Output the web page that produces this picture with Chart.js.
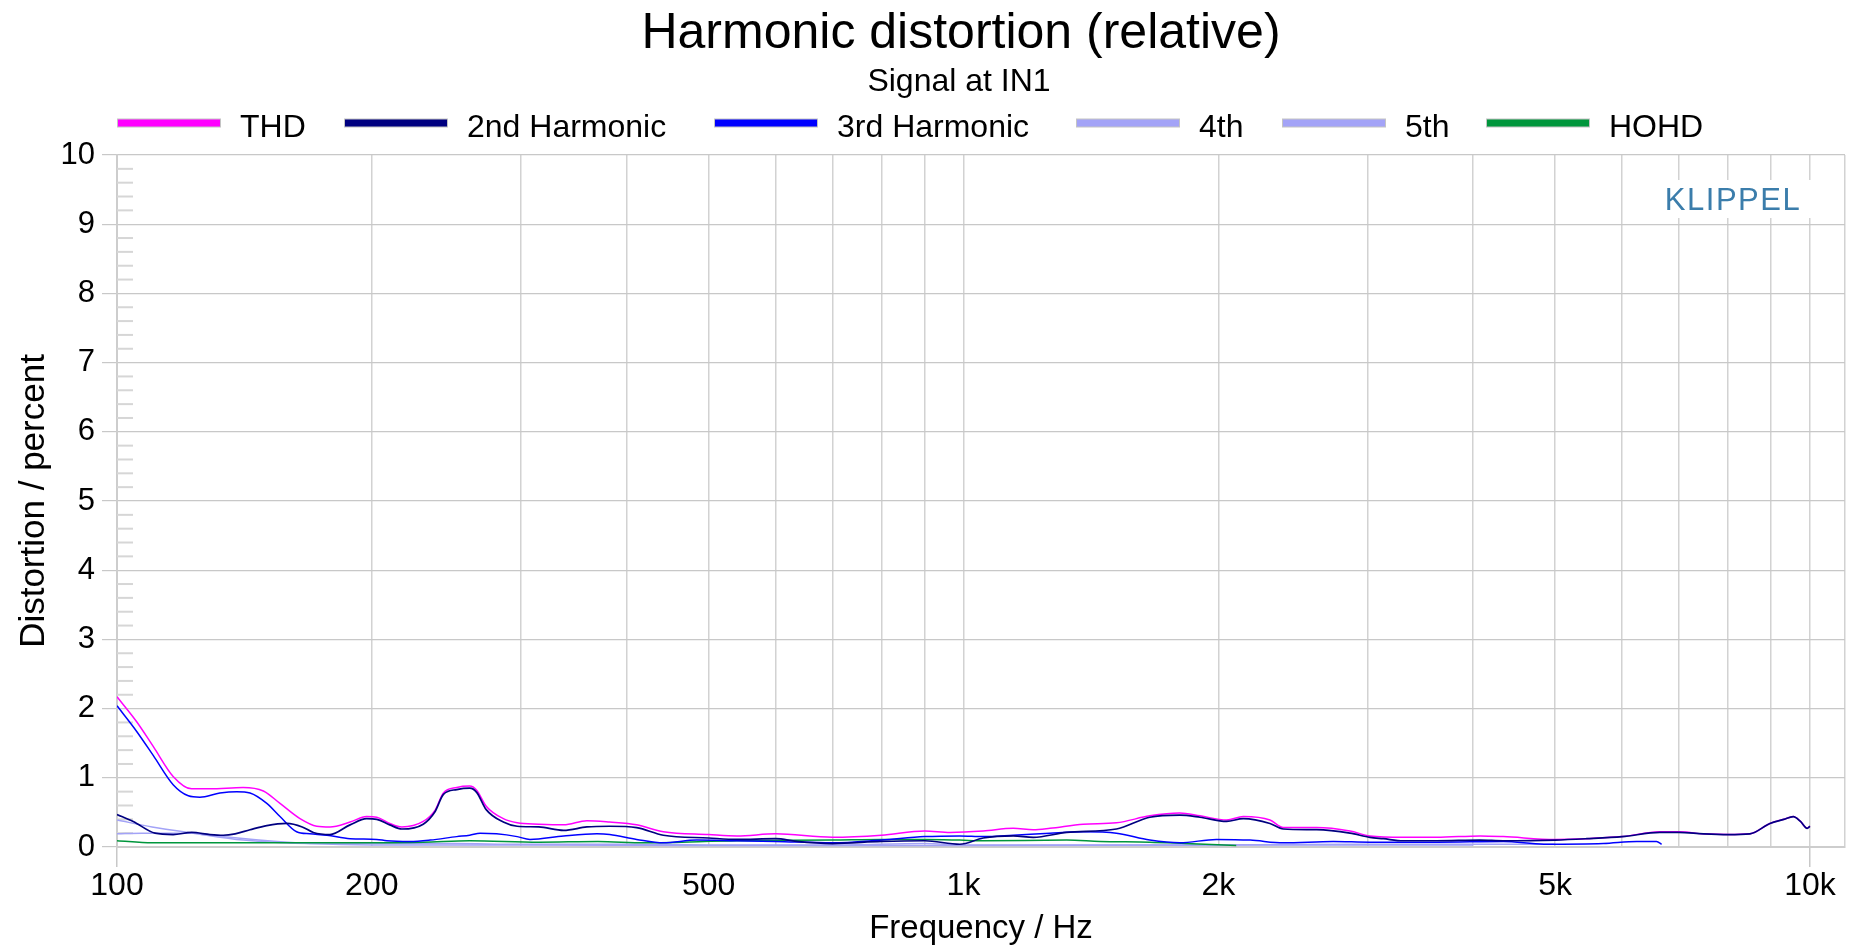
<!DOCTYPE html>
<html><head><meta charset="utf-8">
<script src="https://cdn.jsdelivr.net/npm/chart.js@4/dist/chart.umd.min.js"></script>
<style>html,body{margin:0;padding:0;background:#fff;overflow:hidden}canvas{display:block}</style>
</head><body><canvas id="c" width="1854" height="948"></canvas>
<script>
// ---- data (frequency in Hz, distortion in percent) ----
const thdFreq = [100,105.5,110.4,116.5,122.5,128.8,140.9,148.9,155.8,164.5,172.2,178.5,188.5,197.2,202.7,210,217,230,237.5,243,252,261,266,273,286,297,315,337,359,382,411,442,500,540,600,700,800,900,964,1055,1145,1209,1265,1385,1516,1660,1801,1903,2046,2141,2302,2387,2613,2861,3021,3308,3622,4076,4343,5000,5447,6000,6648,7000,7482,8000,8495,8968,9314,9556,9745,9924,10000];
const thdVal = [2.17,1.81,1.45,1.02,0.84,0.84,0.86,0.81,0.63,0.41,0.30,0.29,0.36,0.44,0.43,0.34,0.29,0.37,0.53,0.78,0.86,0.88,0.82,0.59,0.41,0.35,0.33,0.32,0.38,0.36,0.32,0.22,0.18,0.16,0.19,0.14,0.17,0.23,0.21,0.23,0.27,0.25,0.27,0.33,0.35,0.45,0.49,0.45,0.39,0.44,0.39,0.28,0.28,0.23,0.16,0.14,0.14,0.16,0.15,0.11,0.12,0.15,0.22,0.22,0.19,0.18,0.19,0.34,0.40,0.44,0.37,0.27,0.30];

const h2Freq = [100,104.5,110.9,116.5,122.5,128.8,133.5,137.9,143.6,150.3,158.7,165.5,170.6,178.5,188.5,197.2,202.7,210,217,230,237.5,243,252,261,266,273,286,297,315,337,359,382,411,442,500,540,600,635,700,800,900,990,1055,1145,1209,1324,1516,1660,1801,1903,2046,2141,2302,2387,2613,2861,3021,3133,3308,3622,4076,4343,5000,5447,6000,6648,7000,7482,8000,8495,8968,9314,9556,9745,9924,10000];
const h2Val = [0.47,0.37,0.20,0.18,0.21,0.18,0.17,0.19,0.25,0.31,0.34,0.29,0.21,0.18,0.32,0.41,0.40,0.32,0.26,0.33,0.51,0.76,0.83,0.85,0.79,0.54,0.36,0.30,0.29,0.24,0.29,0.30,0.28,0.17,0.13,0.11,0.12,0.08,0.05,0.08,0.09,0.04,0.13,0.16,0.14,0.21,0.26,0.43,0.46,0.43,0.37,0.41,0.34,0.26,0.25,0.20,0.14,0.12,0.09,0.09,0.10,0.09,0.10,0.12,0.15,0.21,0.21,0.19,0.18,0.19,0.34,0.40,0.44,0.37,0.27,0.30];

const h3Freq = [100,105.5,110.4,116.5,121.4,125.3,132.3,138.5,143.6,150.3,155.8,163,169,177,188.5,202.7,208.3,221.9,234.4,252,261,268.5,280.8,297,307.5,337,369,382,411,442,484,540,600,700,800,900,990,1055,1145,1265,1385,1516,1660,1801,1990,2181,2387,2734,3021,3622,4343,4849,5700,6243,6588,6680];
const h3Val = [2.04,1.67,1.32,0.90,0.74,0.72,0.78,0.80,0.78,0.63,0.44,0.22,0.19,0.17,0.12,0.11,0.09,0.08,0.10,0.15,0.17,0.20,0.19,0.15,0.11,0.16,0.19,0.18,0.11,0.06,0.10,0.09,0.08,0.06,0.10,0.15,0.16,0.15,0.17,0.20,0.22,0.20,0.10,0.06,0.11,0.10,0.06,0.08,0.07,0.07,0.08,0.04,0.05,0.08,0.08,0.04];

const h4Freq = [100,110,123,141,169,200,250,300,400,500,700,900,1000,1500,2000,3000,4000,5000];
const h4Val = [0.39,0.29,0.20,0.10,0.05,0.05,0.05,0.04,0.04,0.03,0.03,0.05,0.03,0.03,0.03,0.04,0.04,0.04];

const h5Freq = [100,107,123,133,147,169,200,300,500,1000,2000,3000,4000];
const h5Val = [0.19,0.20,0.20,0.15,0.10,0.05,0.03,0.03,0.02,0.02,0.03,0.03,0.03];

const hohdFreq = [100,110,129,169,230,261,315,370,420,540,700,800,900,990,1055,1324,1450,1660,1830,2100];
const hohdVal = [0.09,0.06,0.06,0.06,0.07,0.09,0.07,0.08,0.06,0.09,0.10,0.11,0.11,0.10,0.09,0.10,0.08,0.07,0.05,0.02];

const seriesNames = ['THD','2nd Harmonic','3rd Harmonic','4th','5th','HOHD'];
const xGridValues = [100,200,300,400,500,600,700,800,900,1000,2000,3000,4000,5000,6000,7000,8000,9000,10000,11000];
const xTickText = {100:'100',200:'200',500:'500',1000:'1k',2000:'2k',5000:'5k',10000:'10k'};
const yTicks = {min:0, max:10, step:1, minorStep:0.2};

const FONT = "'Liberation Sans', Arial, sans-serif";
const pts = (f, v) => f.map((x, i) => ({x, y: v[i]}));
const mk = (label, f, v, color, order, w) => ({label, data: pts(f, v), borderColor: color, backgroundColor: color,
  borderWidth: w, pointRadius: 0, fill: false, order, cubicInterpolationMode: 'monotone'});

const datasets = [
  mk(seriesNames[0], thdFreq, thdVal, '#ff00ff', 2, 1.5),
  mk(seriesNames[1], h2Freq, h2Val, '#000080', 0, 1.7),
  mk(seriesNames[2], h3Freq, h3Val, '#0000ff', 1, 1.5),
  mk(seriesNames[3], h4Freq, h4Val, '#a3a3f7', 4, 1.5),
  mk(seriesNames[4], h5Freq, h5Val, '#a3a3f7', 5, 1.5),
  mk(seriesNames[5], hohdFreq, hohdVal, '#00963c', 3, 1.5)
];

const legendX = [117, 344, 714, 1076, 1282, 1486];

const deco = {
  id: 'deco',
  beforeDatasetsDraw(chart) {
    const {ctx, chartArea: a, scales: {y}} = chart;
    ctx.save();
    ctx.strokeStyle = '#d6d6d6'; ctx.lineWidth = 2;
    const n = Math.round((yTicks.max - yTicks.min) / yTicks.minorStep);
    const per = Math.round(yTicks.step / yTicks.minorStep);
    for (let k = 1; k < n; k++) {
      if (k % per === 0) continue;
      const py = y.getPixelForValue(yTicks.min + k * yTicks.minorStep);
      ctx.beginPath(); ctx.moveTo(a.left, py); ctx.lineTo(a.left + 16, py); ctx.stroke();
    }
    ctx.fillStyle = '#ffffff';
    ctx.fillRect(1663, 180, 148, 38);
    ctx.fillStyle = '#3b7dab';
    ctx.font = '31px ' + FONT;
    ctx.letterSpacing = '1.5px';
    ctx.textAlign = 'center'; ctx.textBaseline = 'alphabetic';
    ctx.fillText('KLIPPEL', 1733, 210);
    ctx.restore();
  },
  afterDraw(chart) {
    const {ctx, chartArea: a} = chart;
    ctx.save();
    ctx.fillStyle = '#000';
    ctx.textAlign = 'center'; ctx.textBaseline = 'alphabetic';
    const cx = (a.left + a.right) / 2;
    ctx.font = '50px ' + FONT;
    ctx.fillText('Harmonic distortion (relative)', 961, 48);
    ctx.font = '32px ' + FONT;
    ctx.fillText('Signal at IN1', 959, 91);
    ctx.textAlign = 'left';
    chart.data.datasets.forEach((ds, i) => {
      const x0 = legendX[i];
      ctx.fillStyle = '#c4c4c4';
      ctx.fillRect(x0, 118.5, 104, 9);
      ctx.fillStyle = ds.borderColor;
      ctx.fillRect(x0 + 1, 119.5, 102, 7);
      ctx.fillStyle = '#000';
      ctx.font = '32px ' + FONT;
      ctx.fillText(ds.label, x0 + 123, 137);
    });
    ctx.textAlign = 'center';
    ctx.font = '33px ' + FONT;
    ctx.fillText('Frequency / Hz', cx, 938);
    ctx.font = '35px ' + FONT;
    ctx.translate(44, (a.top + a.bottom) / 2);
    ctx.rotate(-Math.PI / 2);
    ctx.fillText('Distortion / percent', 0, 0);
    ctx.restore();
  }
};

new Chart(document.getElementById('c'), {
  type: 'line',
  data: {datasets},
  plugins: [deco],
  options: {
    responsive: false, animation: false,
    layout: {padding: {top: 155, right: 9, left: 0, bottom: 0}},
    plugins: {legend: {display: false}, title: {display: false}, tooltip: {enabled: false}},
    scales: {
      x: {
        type: 'logarithmic', min: 100, max: 11000,
        afterBuildTicks: s => { s.ticks = xGridValues.map(v => ({value: v})); },
        afterFit: s => { s.height = 101; },
        ticks: {autoSkip: false, maxRotation: 0, minRotation: 0, padding: 0, color: '#000',
          font: {family: FONT, size: 32}, callback: v => (xTickText[v] !== undefined ? xTickText[v] : '')},
        grid: {color: '#d2d2d2', lineWidth: 1.5, tickLength: 20,
          tickColor: c => (c.tick && (c.tick.value === 100 || c.tick.value === 10000)) ? '#c8c8c8' : 'rgba(0,0,0,0)'},
        border: {color: '#cdcdcd', width: 2}
      },
      y: {
        min: yTicks.min, max: yTicks.max,
        afterFit: s => { s.width = 117; },
        ticks: {stepSize: yTicks.step, padding: 7, color: '#000', font: {family: FONT, size: 31}},
        grid: {color: '#c8c8c8', lineWidth: 1.2, tickLength: 15},
        border: {color: '#cdcdcd', width: 2}
      }
    }
  }
});
</script>
</body></html>
